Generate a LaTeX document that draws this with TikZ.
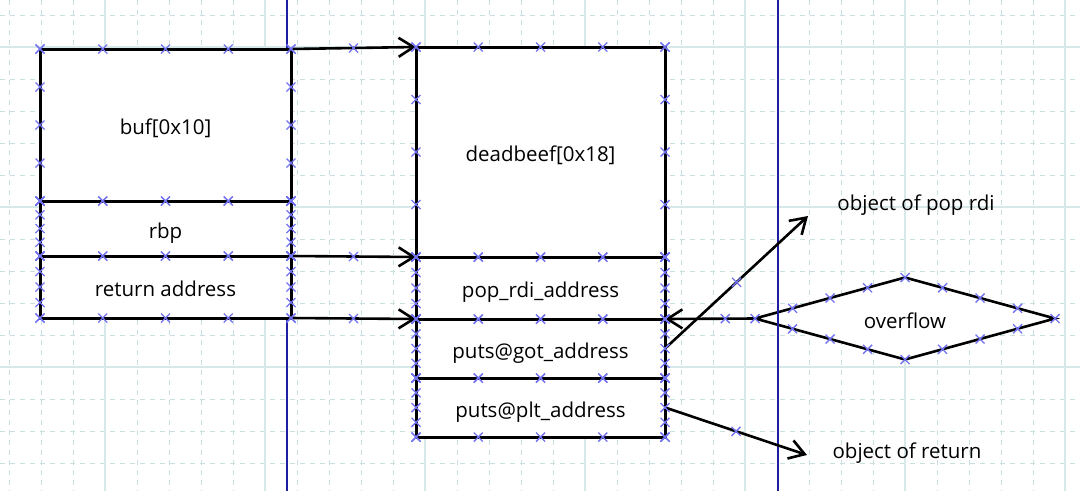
\documentclass[tikz,border=0pt]{standalone}
\usepackage{fontspec}
\setmainfont{Open Sans}
\usetikzlibrary{arrows.meta,calc}
\definecolor{gridmaj}{RGB}{214,232,232}
\definecolor{gridmin}{RGB}{202,224,224}
\definecolor{navyline}{RGB}{30,30,160}
\definecolor{xmarkcol}{RGB}{115,115,242}
\tikzset{
  cell/.style={rectangle, draw=black, line width=3pt, fill=white, inner sep=0pt, outer sep=0pt,
    font=\fontsize{20.5}{24}\selectfont, text=black, text height=19pt, text depth=0pt},
  conn/.style={draw=black, line width=2.6pt, -{Straight Barb[length=15pt,width=19pt]}},
  lbl/.style={font=\fontsize{20.5}{24}\selectfont, inner sep=0pt, text=black},
  xm/.pic={\draw[xmarkcol, line width=1.4pt] (-4.5,-4.5) -- (4.5,4.5) (-4.5,4.5) -- (4.5,-4.5);}
}
\begin{document}
\begin{tikzpicture}[x=1pt,y=-1pt]
\useasboundingbox (0,0) rectangle (1080,491);
\fill[white] (0,0) rectangle (1080,491);
% grid
\foreach \k in {0,...,33}{
  \pgfmathsetmacro\gx{9+32*\k}
  \draw[gridmin, line width=1pt, dash pattern=on 5pt off 5pt] (\gx,0) -- (\gx,491);
}
\foreach \k in {0,...,15}{
  \pgfmathsetmacro\gy{15+32*\k}
  \draw[gridmin, line width=1pt, dash pattern=on 5pt off 5pt] (0,\gy) -- (1080,\gy);
}
\foreach \gx in {105,265,425,585,745,905,1065}{
  \draw[gridmaj, line width=1.1pt] (\gx,0) -- (\gx,491);
}
\foreach \gy in {47,207,367}{
  \draw[gridmaj, line width=1.1pt] (0,\gy) -- (1080,\gy);
}
% first page line
\draw[navyline, line width=1.4pt] (287,0) -- (287,491);
% left stack
\node[cell, minimum width=251pt, minimum height=152pt] (buf) at (165.5,125) {buf[0x10]};
\node[cell, minimum width=251pt, minimum height=55pt] (rbp) at (165.5,228.5) {rbp};
\node[cell, minimum width=251pt, minimum height=62pt] (ret) at (165.5,287) {return address};
% right stack
\node[cell, minimum width=249pt, minimum height=210pt] (dead) at (540.5,152) {deadbeef[0x18]};
\node[cell, minimum width=249pt, minimum height=62pt] (pop) at (540.5,288) {pop\_rdi\_address};
\node[cell, minimum width=249pt, minimum height=59pt] (got) at (540.5,348.5) {puts@got\_address};
\node[cell, minimum width=249pt, minimum height=59pt] (plt) at (540.5,407.5) {puts@plt\_address};
% diamond
\node[cell, draw=none, fill=none, minimum width=300pt, minimum height=82pt] (ov) at (905,318.5) {};
\filldraw[fill=white, draw=black, line width=2.6pt, line join=miter]
  (ov.west) -- (ov.north) -- (ov.east) -- (ov.south) -- cycle;
% second page line
\draw[navyline, line width=1.4pt] (778,0) -- (778,491);
\node[lbl, text height=19pt, text depth=0pt] (ovt) at (ov.center) {overflow};
% labels
\node[lbl] (l1) at (916,205) {object of pop rdi};
\node[lbl] (l2) at (907,453) {object of return};
\coordinate (e1) at (808,216);
\coordinate (e2) at (807,455);
% connectors
\draw[conn] (buf.north east) -- (dead.north west);
\draw[conn] (rbp.south east) -- (pop.north west);
\draw[conn] (ret.south east) -- (got.north west);
\draw[conn] (ov.west) -- (got.north east);
\draw[conn] (got.east) -- (e1);
\draw[conn] (plt.east) -- (e2);
% connection marks
\foreach \n in {buf,rbp,ret,dead,pop,got,plt}{
  \foreach \t in {0,0.25,0.5,0.75,1}{
    \pic at ($(\n.north west)!\t!(\n.north east)$) {xm};
    \pic at ($(\n.south west)!\t!(\n.south east)$) {xm};
    \pic at ($(\n.north west)!\t!(\n.south west)$) {xm};
    \pic at ($(\n.north east)!\t!(\n.south east)$) {xm};
  }
}
\foreach \a/\b in {west/north,north/east,east/south,south/west}{
  \foreach \t in {0,0.25,0.5,0.75}{
    \pic at ($(ov.\a)!\t!(ov.\b)$) {xm};
  }
}
\pic at ($(buf.north east)!0.5!(dead.north west)$) {xm};
\pic at ($(rbp.south east)!0.5!(pop.north west)$) {xm};
\pic at ($(ret.south east)!0.5!(got.north west)$) {xm};
\pic at ($(ov.west)!0.33!(got.north east)$) {xm};
\pic at ($(got.east)!0.5!(e1)$) {xm};
\pic at ($(plt.east)!0.5!(e2)$) {xm};
\end{tikzpicture}
\end{document}
